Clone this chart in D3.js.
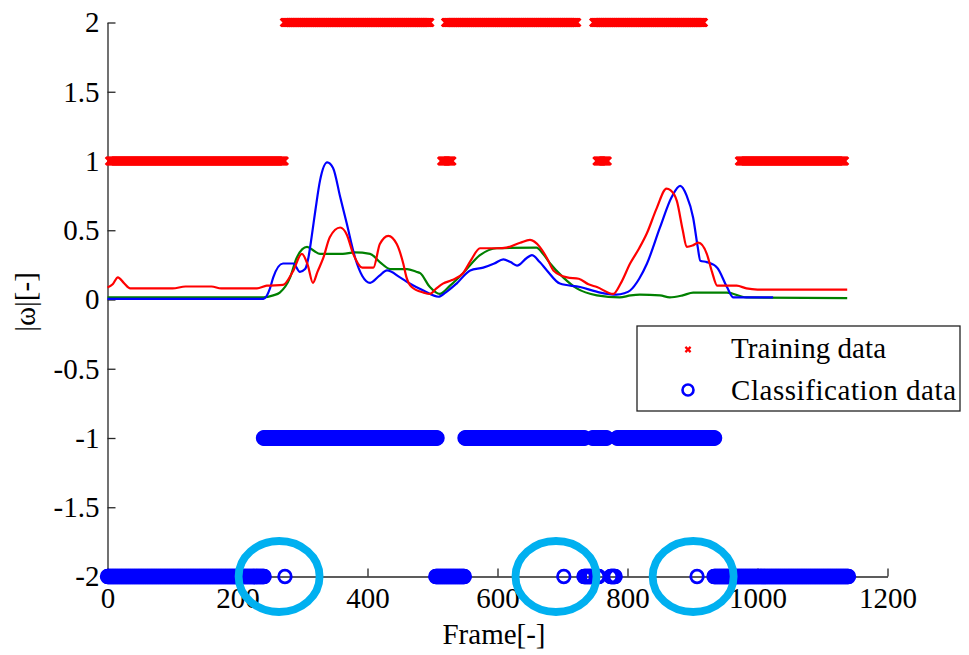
<!DOCTYPE html>
<html>
<head>
<meta charset="utf-8">
<script src="https://cdn.jsdelivr.net/npm/d3@7"></script>
<style>
  html, body { margin: 0; padding: 0; background: #fff; }
  svg { display: block; }
  text { font-family: "Liberation Serif", "Times New Roman", serif; }
</style>
</head>
<body>
<svg id="chart" width="969" height="655"></svg>
<script>
// ---- data ----
const xTicks = [0, 200, 400, 600, 800, 1000, 1200];
const yTicks = [-2, -1.5, -1, -0.5, 0, 0.5, 1, 1.5, 2];

// angular velocity magnitude traces: [frame, |ω|]
const blueCurve = [[0,0.005],[240,0.005],[250,0.08],[255,0.16],[270,0.26],[286,0.26],[296,0.2],[304,0.22],[309,0.3],[314,0.45],[320,0.65],[327,0.86],[338,0.99],[347,0.95],[358,0.74],[368,0.55],[381,0.30],[392,0.17],[404,0.12],[418,0.17],[430,0.21],[450,0.16],[465,0.115],[486,0.065],[509,0.02],[520,0.05],[537,0.115],[558,0.21],[578,0.23],[595,0.26],[609,0.29],[620,0.27],[630,0.245],[645,0.30],[653,0.32],[665,0.27],[676,0.21],[696,0.115],[727,0.09],[758,0.05],[783,0.035],[795,0.045],[804,0.065],[818,0.15],[830,0.26],[850,0.52],[868,0.74],[881,0.82],[891,0.75],[901,0.59],[908,0.38],[912,0.28],[922,0.27],[938,0.23],[953,0.09],[963,0.015],[1024,0.015]];

const redCurve = [[0,0.087],[8,0.11],[16,0.16],[25,0.12],[35,0.08],[100,0.08],[120,0.094],[160,0.094],[175,0.08],[230,0.08],[245,0.1],[270,0.105],[285,0.2],[299,0.33],[308,0.25],[316,0.12],[323,0.2],[332,0.3],[342,0.45],[358,0.52],[368,0.47],[378,0.33],[392,0.23],[409,0.23],[419,0.40],[432,0.46],[445,0.40],[455,0.26],[460,0.16],[468,0.09],[486,0.05],[496,0.04],[506,0.08],[516,0.115],[530,0.14],[547,0.19],[560,0.29],[573,0.37],[600,0.37],[614,0.375],[635,0.41],[650,0.43],[665,0.38],[676,0.3],[686,0.21],[707,0.16],[725,0.15],[740,0.11],[753,0.09],[778,0.04],[790,0.12],[804,0.26],[818,0.37],[830,0.48],[845,0.66],[860,0.80],[866,0.79],[876,0.71],[885,0.5],[891,0.38],[900,0.39],[909,0.41],[922,0.33],[930,0.2],[938,0.10],[968,0.10],[983,0.08],[1000,0.072],[1138,0.072]];

const greenCurve = [[0,0.015],[240,0.015],[255,0.03],[265,0.05],[281,0.16],[291,0.30],[307,0.38],[318,0.35],[327,0.33],[362,0.33],[380,0.34],[404,0.33],[419,0.27],[435,0.22],[461,0.22],[475,0.2],[481,0.19],[496,0.09],[511,0.04],[527,0.10],[547,0.19],[573,0.32],[599,0.37],[660,0.375],[670,0.33],[681,0.26],[701,0.16],[722,0.08],[753,0.03],[788,0.015],[805,0.03],[819,0.035],[850,0.03],[865,0.015],[885,0.03],[901,0.05],[953,0.05],[983,0.015],[1138,0.01]];

// training labels per frame, as runs: [label, firstFrame, lastFrame]
const trainingRuns = [[1,3,272],[2,272,496],[1,514,530],[2,520,722],[1,753,769],[2,748,917],[1,972,1134]];

// classification output per frame, as runs: [label, firstFrame, lastFrame]
const classificationRuns = [[-2,0,241],[-1,240,507],[-2,273,273],[-2,505,549],[-1,550,734],[-2,702,702],[-2,733,745],[-1,746,768],[-2,754,756],[-2,774,781],[-1,784,934],[-2,907,907],[-2,933,1140]];

// misclassified frames called out with rings
const highlightFrames = [264, 690, 901];
const highlightLevel = -2;

const legendLabels = ["Training data", "Classification data"];

// ---- drawing ----
const svg = d3.select("#chart");
const x = d3.scaleLinear().domain([0, 1200]).range([107.5, 887.5]);
const y = d3.scaleLinear().domain([-2, 2]).range([576.5, 22.5]);

const fontSize = 29;
const axisColor = "#262626";

function expandRuns(runs) {
  const pts = [];
  runs.forEach(([label, a, b]) => {
    for (let f = a; f <= b; f++) pts.push({ frame: f, label });
  });
  return pts;
}

// axes
const gx = svg.append("g")
  .attr("transform", `translate(0,${y(-2)})`)
  .call(d3.axisBottom(x).tickValues(xTicks).tickSizeInner(-8).tickSizeOuter(0)
    .tickPadding(11).tickFormat(d => String(d)));
const gy = svg.append("g")
  .attr("transform", `translate(${x(0)},0)`)
  .call(d3.axisLeft(y).tickValues(yTicks).tickSizeInner(-8).tickSizeOuter(0)
    .tickPadding(8).tickFormat(d => String(d)));
[gx, gy].forEach(g => {
  g.select(".domain").attr("stroke", axisColor).attr("stroke-width", 1.3);
  g.selectAll(".tick line").attr("stroke", axisColor).attr("stroke-width", 1.3);
  g.selectAll(".tick text").attr("fill", "#000")
    .style("font-family", '"Liberation Serif", serif').style("font-size", fontSize + "px");
});

// traces
const line = d3.line().x(d => x(d[0])).y(d => y(d[1])).curve(d3.curveMonotoneX);
[[greenCurve, "#008000"], [blueCurve, "#0000ff"], [redCurve, "#ff0000"]].forEach(([data, color]) => {
  svg.append("path").datum(data).attr("d", line)
    .attr("fill", "none").attr("stroke", color).attr("stroke-width", 2.2)
    .attr("stroke-linejoin", "round");
});

// training markers (x)
const xMark = (s) => `M${-s},${-s}L${s},${s}M${s},${-s}L${-s},${s}`;
svg.append("g").selectAll("path").data(expandRuns(trainingRuns)).join("path")
  .attr("transform", d => `translate(${x(d.frame)},${y(d.label)})`)
  .attr("d", xMark(3.8))
  .attr("fill", "none").attr("stroke", "#ff0000").attr("stroke-width", 2.6);

// classification markers (o)
svg.append("g").selectAll("circle").data(expandRuns(classificationRuns)).join("circle")
  .attr("cx", d => x(d.frame)).attr("cy", d => y(d.label)).attr("r", 6.3)
  .attr("fill", "none").attr("stroke", "#0000ff").attr("stroke-width", 2.8);

// highlight rings
svg.append("g").selectAll("ellipse").data(highlightFrames).join("ellipse")
  .attr("cx", d => x(d)).attr("cy", y(highlightLevel))
  .attr("rx", 40.5).attr("ry", 35.5)
  .attr("fill", "none").attr("stroke", "#00b0f0").attr("stroke-width", 7.8);

// axis titles
svg.append("text").attr("x", 494).attr("y", 644).attr("text-anchor", "middle")
  .style("font-size", fontSize + "px").text("Frame[-]");
svg.append("text").attr("transform", "translate(35,302) rotate(-90)").attr("text-anchor", "middle")
  .style("font-size", fontSize + "px").text("|ω|[-]");

// legend
const lg = svg.append("g");
lg.append("rect").attr("x", 637).attr("y", 326).attr("width", 323).attr("height", 85)
  .attr("fill", "#fff").attr("stroke", "#222").attr("stroke-width", 1.3);
lg.append("path").attr("transform", "translate(688,349.5)").attr("d", xMark(2.6))
  .attr("fill", "none").attr("stroke", "#ff0000").attr("stroke-width", 2.2);
lg.append("circle").attr("cx", 688).attr("cy", 390).attr("r", 5.5)
  .attr("fill", "none").attr("stroke", "#0000ff").attr("stroke-width", 2.6);
const legendWidths = [155, 225];
lg.selectAll("text").data(legendLabels).join("text")
  .attr("x", 731).attr("y", (d, i) => 358 + i * 42)
  .attr("textLength", (d, i) => legendWidths[i]).attr("lengthAdjust", "spacing")
  .style("font-size", fontSize + "px").text(d => d);
</script>
</body>
</html>
